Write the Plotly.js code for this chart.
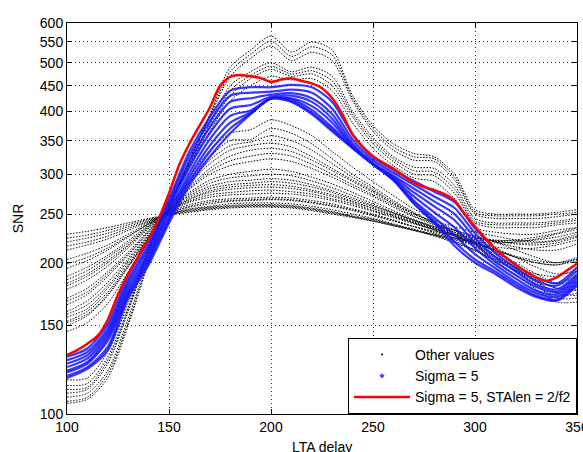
<!DOCTYPE html>
<html>
<head>
<meta charset="utf-8">
<script src="https://cdn.plot.ly/plotly-3.0.1.min.js"></script>
<style>html,body{margin:0;padding:0;background:#fff;}#chart{width:583px;height:452px;}</style>
</head>
<body>
<div id="chart"></div>
<script>
// LTA delay grid for the sampled curves (step 10)
var ltaDelay = [100,110,120,130,140,150,160,170,180,190,200,210,220,230,240,250,260,270,280,290,300,310,320,330,340,350];

// ---- "Other values" (black) curves ----
var other1  = [105,107,118,150,200,255,320,395,490,530,565,525,550,530,430,375,345,330,325,300,255,250,250,250,252,255];
var otherA  = [106,108,120,152,202,256,319,392,480,520,552,515,538,518,425,370,340,325,322,296,252,248,248,248,250,252];
var other2  = [108,110,122,155,205,258,318,390,470,510,540,505,525,505,420,365,335,320,318,292,250,245,245,245,247,250];
var other3  = [110,112,126,160,210,260,315,380,450,480,500,480,490,470,400,355,325,310,308,285,245,240,240,240,242,245];
var otherB  = [112,113,128,161,211,261,313,376,440,472,492,475,482,460,395,350,322,305,303,280,242,238,238,238,240,243];
var other4  = [114,115,130,163,212,262,312,372,430,465,485,470,475,450,390,345,318,300,298,275,240,235,235,235,238,240];
var other5  = [117,118,133,166,214,262,308,365,420,450,470,462,465,440,380,338,312,295,290,268,235,230,228,228,232,235];
var otherC  = [146,152,166,192,222,257,296,335,362,368,385,375,358,333,310,290,272,256,244,232,218,206,195,186,182,188];
var other6  = [150,157,172,196,224,256,292,325,350,352,370,362,345,322,300,283,266,252,240,228,216,205,196,190,188,195];
var otherD  = [152,158,173,197,224,256,290,320,342,348,358,350,335,315,296,280,264,251,240,230,220,212,205,200,198,204];
var other7  = [153,160,175,198,225,256,288,315,335,342,346,340,325,308,292,278,262,250,240,232,225,220,215,212,212,218];
var other8  = [156,162,178,200,226,255,283,308,326,335,338,333,320,305,290,276,262,250,242,236,230,226,222,220,222,228];
var otherE  = [158,165,180,202,227,255,281,304,319,326,330,326,314,300,286,273,260,248,239,232,226,220,212,205,200,205];
var other9  = [160,168,183,204,228,255,280,300,312,318,322,318,308,296,283,271,258,247,238,230,222,214,205,196,190,192];
var other10 = [165,173,188,207,230,255,276,292,300,304,307,304,296,287,276,265,254,244,236,228,220,210,198,186,178,180];
var otherF  = [168,175,190,208,231,254,274,288,295,298,300,298,291,282,272,262,252,243,235,227,218,208,196,184,175,177];
var other11 = [170,178,192,210,232,254,272,284,290,292,294,292,286,278,269,260,251,242,234,226,217,206,193,181,172,174];
var other12 = [177,185,197,214,234,253,270,281,286,288,290,288,283,276,267,259,251,243,236,230,225,221,218,217,219,225];
var otherG  = [180,188,200,216,235,253,268,278,283,285,286,284,279,273,265,257,249,241,234,227,220,212,205,200,198,202];
var other13 = [182,190,202,217,236,253,267,276,280,282,283,281,277,271,264,256,248,240,232,224,215,204,192,180,170,170];
var otherH  = [185,193,205,219,237,253,265,273,276,278,279,277,274,268,262,254,247,240,233,226,219,211,200,190,182,183];
var other14 = [188,196,207,221,238,253,264,270,273,274,275,274,271,266,260,253,246,239,233,228,224,221,219,219,221,226];
var other15 = [195,202,212,225,239,252,261,266,268,269,270,269,266,262,256,250,243,236,229,221,212,201,189,177,167,167];
var otherI  = [199,205,214,226,239,251,259,264,266,267,268,267,264,260,255,249,243,236,230,224,218,212,206,202,200,203];
var other16 = [203,209,217,228,240,251,258,262,265,266,267,266,263,259,254,248,242,236,231,227,224,222,221,222,225,230];
var other17 = [212,217,223,232,241,250,256,259,262,263,263,262,259,255,250,245,239,233,227,220,212,203,193,183,174,172];
var otherJ  = [216,220,226,234,242,250,255,258,260,261,261,260,257,253,248,244,238,232,226,219,211,202,193,185,178,176];
var other18 = [220,224,229,236,243,250,254,257,259,260,260,259,256,252,247,243,238,233,228,224,222,221,222,225,229,235];
var otherK  = [224,227,232,238,244,249,253,256,258,259,259,258,255,251,247,242,237,232,227,222,218,215,213,214,217,222];
var other19 = [228,231,235,240,245,249,252,255,257,258,258,257,254,250,246,242,237,232,227,223,220,219,220,223,228,233];

// ---- "Sigma = 5" (blue) curves ----
var sigma5a = [130,135,151,189,221,268,333,390,440,447,447,452,447,418,360,324,306,291,277,264,234,213,198,187,182,196];
var sigma5b = [128,133,148,185,217,264,326,382,430,436,438,442,436,405,352,320,302,286,271,257,229,209,195,184,180,193];
var sigma5c = [126,131,146,182,214,260,318,372,418,425,432,435,425,395,346,316,298,281,265,250,224,205,192,181,177,190];
var sigma5d = [124,129,144,179,210,255,310,362,405,412,428,430,418,387,342,314,296,276,259,243,219,201,189,179,175,188];
var sigma5e = [122,127,142,176,207,250,302,352,392,402,425,425,410,380,340,314,294,271,252,235,214,198,186,176,173,186];
var sigma5f = [121,126,140,174,204,246,296,342,380,398,425,423,403,372,339,314,293,266,246,227,208,195,183,174,171,184];
var sigma5g = [119,124,136,172,201,243,290,333,370,396,424,420,398,368,338,314,292,264,242,220,203,192,181,172,169,182];
var sigma5h = [118,123,134,170,198,240,285,325,362,395,424,418,395,365,338,314,292,262,240,216,200,190,179,171,168,180];

// ---- "Sigma = 5, STAlen = 2/f2" (red) curve, step 5 ----
var redDelay = [100,105,110,115,120,125,130,135,140,145,150,155,160,165,170,175,180,185,190,195,200,205,210,215,220,225,230,235,240,245,250,255,260,265,270,275,280,285,290,295,300,305,310,315,320,325,330,335,340,345,350];
var redSNR   = [131,134,138,143,154,173,190,206,223,245,275,313,345,375,407,450,469,473,470,466,458,463,466,460,455,445,425,395,360,340,326,316,308,298,289,283,279,274,266,250,236,224,213,205,198,192,187,184,187,193,199];

// tick labels
var xTicks = [100,150,200,250,300,350];
var yTicks = [100,150,200,250,300,350,400,450,500,550,600];

var blackCurves = [other1,otherA,other2,other3,otherB,other4,other5,otherC,other6,otherD,other7,other8,
                   otherE,other9,other10,otherF,other11,other12,otherG,other13,otherH,other14,other15,
                   otherI,other16,other17,otherJ,other18,otherK,other19];
var blueCurves = [sigma5a,sigma5b,sigma5c,sigma5d,sigma5e,sigma5f,sigma5g,sigma5h];

var traces = [];
// legend proxies
traces.push({x:[null], y:[null], mode:'markers', name:'Other values',
  marker:{color:'#000', size:2, symbol:'circle'}, hoverinfo:'skip'});
traces.push({x:[null], y:[null], mode:'markers', name:'Sigma = 5',
  marker:{color:'rgb(70,70,255)', size:4, symbol:'diamond'}, hoverinfo:'skip'});

blackCurves.forEach(function(c){
  traces.push({x:ltaDelay, y:c, mode:'lines', showlegend:false, hoverinfo:'skip',
    line:{color:'#000', width:1, dash:'1.5px,1.5px', shape:'spline', smoothing:0.8}});
});
blueCurves.forEach(function(c){
  traces.push({x:ltaDelay, y:c, mode:'lines', showlegend:false, hoverinfo:'skip',
    line:{color:'rgb(20,20,255)', width:2.2, shape:'spline', smoothing:0.8}, opacity:0.85});
});
traces.push({x:redDelay, y:redSNR, mode:'lines', name:'Sigma = 5, STAlen = 2/f2', hoverinfo:'skip',
  line:{color:'rgb(255,0,0)', width:2.5, shape:'spline', smoothing:0.6}});

var fontFam = 'Liberation Sans, Arial, sans-serif';
var layout = {
  width:583, height:452,
  margin:{l:67, r:6, t:23, b:38},
  paper_bgcolor:'#fff', plot_bgcolor:'#fff',
  font:{family:fontFam, size:14, color:'#000'},
  showlegend:true,
  legend:{x:1, y:0, xanchor:'right', yanchor:'bottom', bgcolor:'#fff',
    bordercolor:'#000', borderwidth:1, font:{family:fontFam, size:14, color:'#000'},
    itemwidth:56, tracegroupgap:0},
  xaxis:{range:[100,350], tickvals:xTicks, ticktext:xTicks.map(String),
    tickfont:{family:fontFam, size:14}, ticklabeloverflow:'allow',
    showline:true, linecolor:'#000', linewidth:1, mirror:'ticks',
    ticks:'inside', ticklen:5, tickcolor:'#000',
    showgrid:true, gridcolor:'#333', gridwidth:1, griddash:'1px,3px', zeroline:false,
    automargin:false},
  yaxis:{type:'log', range:[2, Math.log10(600)], tickvals:yTicks, ticktext:yTicks.map(String),
    tickfont:{family:fontFam, size:14},
    showline:true, linecolor:'#000', linewidth:1, mirror:'ticks',
    ticks:'inside', ticklen:5, tickcolor:'#000',
    showgrid:true, gridcolor:'#333', gridwidth:1, griddash:'1px,3px', zeroline:false,
    title:{text:'SNR', font:{family:fontFam, size:14}, standoff:12}, automargin:false},
  annotations:[{text:'LTA delay', xref:'paper', yref:'paper', x:0.5, y:-0.085,
    xanchor:'center', yanchor:'middle', showarrow:false, font:{family:fontFam, size:14, color:'#000'}}]
};
Plotly.newPlot('chart', traces, layout, {displayModeBar:false, staticPlot:true});
</script>
</body>
</html>
